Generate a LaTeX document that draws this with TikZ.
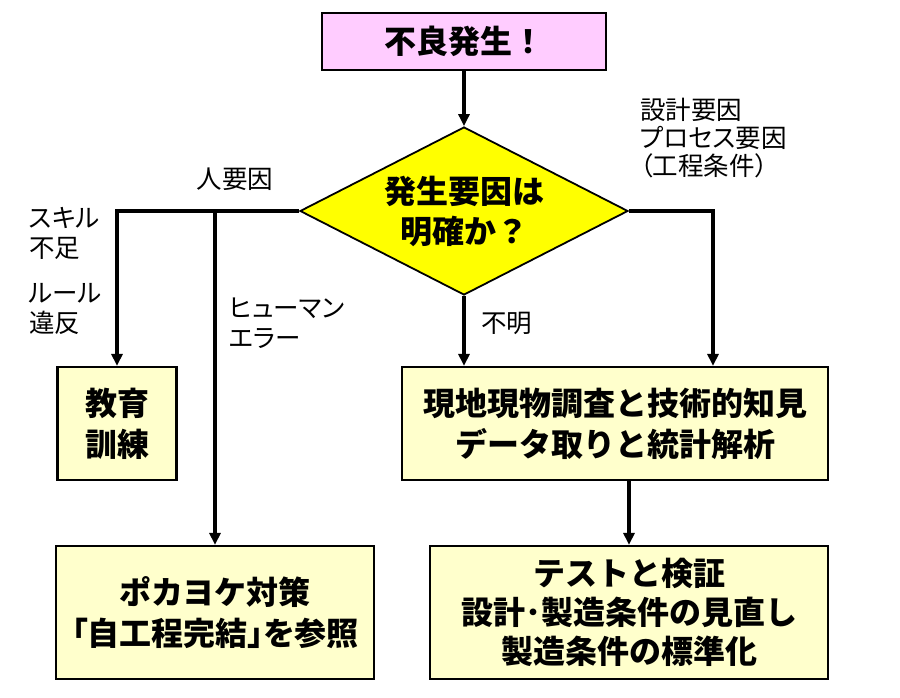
\documentclass[tikz,border=0pt]{standalone}
\usepackage{fontspec}
\newfontfamily\jp{Noto Sans CJK JP}
\newfontfamily\jpp{Noto Sans CJK JP}[RawFeature=+palt]
\usetikzlibrary{shapes.geometric,arrows.meta}
\definecolor{boxyellow}{HTML}{FFFFCC}
\definecolor{pinkfill}{HTML}{FFCCFF}
\definecolor{diafill}{HTML}{FFFF00}
\newcommand{\palt}{\addfontfeatures{RawFeature=+palt}}
\begin{document}
\begin{tikzpicture}[x=1pt,y=-1pt,
  box/.style={draw=black, line width=2.2pt, fill=boxyellow, inner sep=0pt, align=center,
    font=\jp\bfseries\fontsize{32}{41}\selectfont},
  lbl/.style={inner sep=0pt, align=left, font=\jpp\fontsize{25.5}{30}\selectfont},
  conn/.style={line width=3.2pt},
  arr/.style={conn, -{Triangle[length=12pt,width=11pt]}},
]
\useasboundingbox (0,0) rectangle (900,698);

\node[box, fill=pinkfill, minimum width=284pt, minimum height=57pt] (top) at (464,41.5) {不良発生！};
\node[diamond, draw=black, line width=1.8pt, fill=diafill, minimum width=328pt, minimum height=168pt,
  inner sep=0pt, aspect=1.95, align=center, font=\jp\bfseries\fontsize{32}{40}\selectfont] (dia) at (464,211) {発生要因は\\明確か？};

\node[box, minimum width=119pt, minimum height=113pt] (edu) at (117,423.5) {教育\\訓練};
\node[box, minimum width=318pt, minimum height=133pt] (poka) at (215,612.5) {ポカヨケ対策\\{\palt「自工程完結」を参照}};
\node[box, minimum width=426pt, minimum height=113pt] (gen) at (615,423.5) {現地現物調査と技術的知見\\データ取りと統計解析};
\node[box, minimum width=398pt, minimum height=133pt, font=\jp\bfseries\fontsize{32}{39}\selectfont] (test) at (629,612.5) {テストと検証\\設計･製造条件の見直し\\製造条件の標準化};

\draw[arr] (top.south) -- (dia.north);
\draw[arr] (dia.west) -| (edu.north);
\draw[arr] (dia.west) -| (poka.north);
\draw[arr] (dia.east) -| ([xshift=98pt]gen.north);
\draw[arr] (dia.south) -- (dia.south |- gen.north);
\draw[arr] (gen.south -| test.north) -- (test.north);

\node[lbl, anchor=center] (lh) at (235,179) {人要因};
\node[lbl, anchor=west] (ls) at (29,233.5) {スキル\\不足};
\node[lbl, anchor=west] (lr) at (29,309) {ルール\\違反};
\node[lbl, anchor=west] (lhe) at (229,323.5) {ヒューマン\\エラー};
\node[lbl, anchor=west] (lu) at (481,323) {不明};
\node[lbl, anchor=west, font=\jpp\fontsize{25.5}{28}\selectfont] (ld) at (640,138.5) {設計要因\\プロセス要因\\（工程条件）};
\end{tikzpicture}
\end{document}
